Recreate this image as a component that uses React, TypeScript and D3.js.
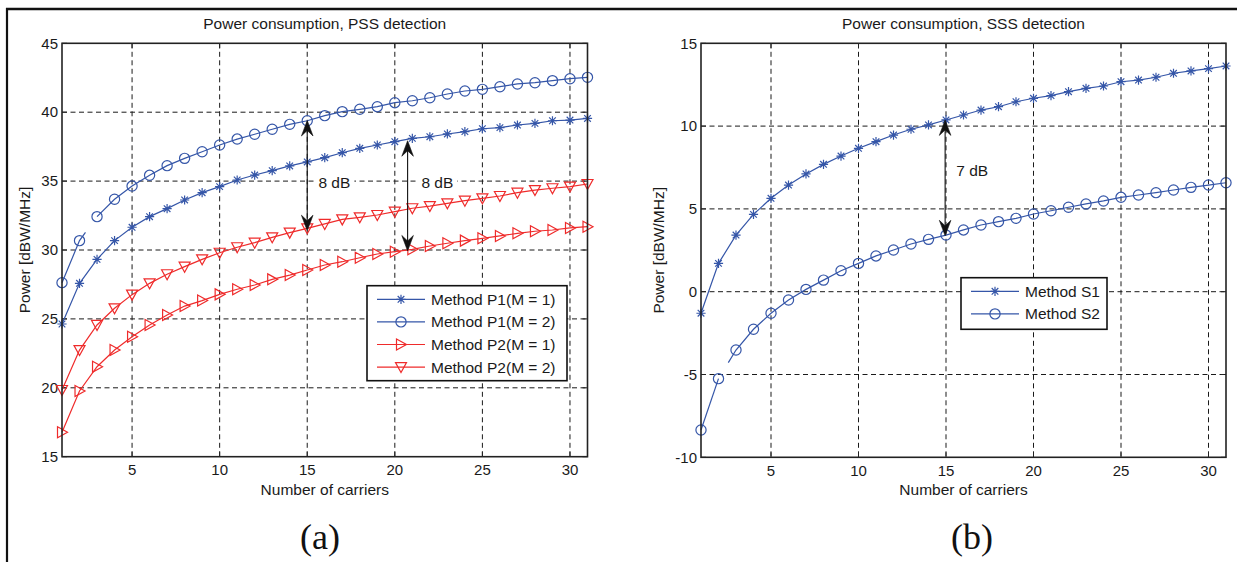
import React from 'react';
import * as d3 from 'd3';

// Number of carriers (x axis, both panels)
const carriers = [1, 2, 3, 4, 5, 6, 7, 8, 9, 10, 11, 12, 13, 14, 15, 16, 17, 18, 19, 20, 21, 22, 23, 24, 25, 26, 27, 28, 29, 30, 31];

// Panel (a): PSS detection power [dBW/MHz]
const p1m1 = [24.63, 27.58, 29.32, 30.68, 31.65, 32.42, 33.0, 33.63, 34.16, 34.6, 35.08, 35.44, 35.76, 36.1, 36.39, 36.7, 37.06, 37.38, 37.62, 37.86, 38.1, 38.22, 38.42, 38.59, 38.8, 38.88, 39.07, 39.19, 39.38, 39.43, 39.55];
const p1m2 = [27.63, 30.68, 32.42, 33.68, 34.64, 35.42, 36.12, 36.65, 37.13, 37.62, 38.05, 38.4, 38.76, 39.12, 39.38, 39.75, 40.04, 40.21, 40.4, 40.69, 40.83, 41.05, 41.32, 41.54, 41.66, 41.85, 42.05, 42.14, 42.29, 42.43, 42.53];
const p2m1 = [16.77, 19.77, 21.53, 22.74, 23.71, 24.56, 25.28, 25.93, 26.33, 26.78, 27.15, 27.46, 27.87, 28.18, 28.55, 28.91, 29.15, 29.44, 29.71, 29.88, 30.05, 30.29, 30.49, 30.68, 30.85, 31.02, 31.21, 31.36, 31.45, 31.6, 31.69];
const p2m2 = [19.84, 22.74, 24.56, 25.77, 26.76, 27.58, 28.24, 28.79, 29.32, 29.8, 30.2, 30.53, 30.92, 31.26, 31.57, 31.89, 32.22, 32.37, 32.54, 32.78, 33.03, 33.19, 33.39, 33.58, 33.75, 33.92, 34.16, 34.35, 34.48, 34.6, 34.79];

// Panel (b): SSS detection power [dBW/MHz]
const s1 = [-1.3, 1.71, 3.42, 4.67, 5.64, 6.44, 7.11, 7.69, 8.19, 8.66, 9.06, 9.46, 9.81, 10.07, 10.37, 10.67, 10.97, 11.17, 11.47, 11.68, 11.84, 12.08, 12.28, 12.42, 12.68, 12.78, 12.95, 13.19, 13.33, 13.47, 13.63];
const s2 = [-8.35, -5.25, -3.52, -2.27, -1.3, -0.5, 0.14, 0.7, 1.27, 1.71, 2.16, 2.52, 2.88, 3.16, 3.42, 3.73, 4.03, 4.23, 4.43, 4.69, 4.89, 5.1, 5.3, 5.48, 5.7, 5.84, 5.98, 6.14, 6.3, 6.44, 6.58];

// Tick labels
const xTicks = [5, 10, 15, 20, 25, 30];
const yTicksA = [15, 20, 25, 30, 35, 40, 45];
const yTicksB = [-10, -5, 0, 5, 10, 15];

// Double-arrow annotations: position, span in dB, label
const arrowsA = [
  { x: 15, mid: 35.4, span: 8, label: '8 dB', lx: 16.55, ly: 34.86 },
  { x: 20.73, mid: 33.93, span: 8, label: '8 dB', lx: 22.43, ly: 34.86 },
];
const arrowsB = [
  { x: 14.95, mid: 6.875, span: 7, label: '7 dB', lx: 16.5, ly: 7.29 },
];

const BLUE = '#3556a8';
const RED = '#ef2b2b';
const FONT = '"Liberation Sans", Arial, Helvetica, sans-serif';

type Gap = { index: number; from: number; to: number };
type Series = { values: number[]; color: string; marker: string; label: string; gap?: Gap };

const seriesA: Series[] = [
  { values: p1m1, color: BLUE, marker: 'star', label: 'Method P1(M = 1)' },
  { values: p1m2, color: BLUE, marker: 'circle', label: 'Method P1(M = 2)', gap: { index: 1, from: 0, to: 0.34 } },
  { values: p2m1, color: RED, marker: 'triright', label: 'Method P2(M = 1)' },
  { values: p2m2, color: RED, marker: 'tridown', label: 'Method P2(M = 2)' },
];
const seriesB: Series[] = [
  { values: s1, color: BLUE, marker: 'star', label: 'Method S1' },
  { values: s2, color: BLUE, marker: 'circle', label: 'Method S2', gap: { index: 1, from: 0.56, to: 1 } },
];

function Marker({ type, x, y, color }: { type: string; x: number; y: number; color: string }) {
  const sw = 1.2;
  if (type === 'circle') {
    return <circle cx={x} cy={y} r={5.1} fill="none" stroke={color} strokeWidth={sw} />;
  }
  if (type === 'star') {
    const a = 4.6;
    const d = a * 0.72;
    return (
      <path
        d={`M${x - a},${y}H${x + a}M${x},${y - a}V${y + a}M${x - d},${y - d}L${x + d},${y + d}M${x - d},${y + d}L${x + d},${y - d}`}
        stroke={color}
        strokeWidth={sw}
        fill="none"
      />
    );
  }
  if (type === 'triright') {
    return (
      <path d={`M${x - 4.5},${y - 5.5}L${x + 5.5},${y}L${x - 4.5},${y + 5.5}Z`} fill="none" stroke={color} strokeWidth={sw} />
    );
  }
  // tridown
  return (
    <path d={`M${x - 5.5},${y - 4.5}L${x + 5.5},${y - 4.5}L${x},${y + 5.5}Z`} fill="none" stroke={color} strokeWidth={sw} />
  );
}

// Split a polyline where one segment is only partially drawn
function linePieces(xs: number[], ys: number[], gap?: Gap): [number, number][][] {
  const pts: [number, number][] = xs.map((x, i) => [x, ys[i]]);
  if (!gap) return [pts];
  const i = gap.index;
  const lerp = (t: number): [number, number] => [
    pts[i][0] + t * (pts[i + 1][0] - pts[i][0]),
    pts[i][1] + t * (pts[i + 1][1] - pts[i][1]),
  ];
  const a = pts.slice(0, i + 1);
  if (gap.from === 0) a.push(lerp(gap.to));
  const b = pts.slice(i + 1);
  if (gap.to === 1) b.unshift(lerp(gap.from));
  return [a, b];
}

function ArrowHead({ x, y, dir }: { x: number; y: number; dir: number }) {
  // dir = -1 points up, +1 points down; tip at (x, y)
  const L = 15.5;
  const W = 5.8;
  const N = 10;
  return (
    <path
      d={`M${x},${y}L${x - W},${y - dir * L}L${x},${y - dir * N}L${x + W},${y - dir * L}Z`}
      fill="#111"
      stroke="#111"
      strokeWidth={0.6}
    />
  );
}

type PanelProps = {
  left: number;
  right: number;
  top: number;
  bottom: number;
  yDomain: [number, number];
  yTicks: number[];
  title: string;
  series: Series[];
  legend: { x: number; y: number; w: number; h: number; rowH: number };
  arrows: { x: number; mid: number; span: number; label: string; lx: number; ly: number }[];
  ylabelX: number;
  tag: string;
  tagX: number;
};

function Panel(p: PanelProps) {
  const x = d3.scaleLinear().domain([1, 31]).range([p.left, p.right]);
  const y = d3.scaleLinear().domain(p.yDomain).range([p.bottom, p.top]);
  const line = d3.line<[number, number]>().x((d) => x(d[0])).y((d) => y(d[1]));
  const cx = (p.left + p.right) / 2;
  const cy = (p.top + p.bottom) / 2;
  const dash = '5,3.5';
  const tickLen = 5;

  return (
    <g>
      {/* grid */}
      {xTicks.map((t) => (
        <line key={'gx' + t} x1={x(t)} x2={x(t)} y1={p.top} y2={p.bottom} stroke="#1a1a1a" strokeWidth={1} strokeDasharray={dash} />
      ))}
      {p.yTicks
        .filter((t) => t !== p.yDomain[0] && t !== p.yDomain[1])
        .map((t) => (
          <line key={'gy' + t} x1={p.left} x2={p.right} y1={y(t)} y2={y(t)} stroke="#1a1a1a" strokeWidth={1} strokeDasharray={dash} />
        ))}

      {/* ticks */}
      {xTicks.map((t) => (
        <g key={'tx' + t}>
          <line x1={x(t)} x2={x(t)} y1={p.bottom} y2={p.bottom - tickLen} stroke="#222" strokeWidth={1} />
          <line x1={x(t)} x2={x(t)} y1={p.top} y2={p.top + tickLen} stroke="#222" strokeWidth={1} />
          <text x={x(t)} y={p.bottom + 18.5} textAnchor="middle" fontSize={15} fontFamily={FONT} fill="#1a1a1a">
            {t}
          </text>
        </g>
      ))}
      {p.yTicks.map((t) => (
        <g key={'ty' + t}>
          <line x1={p.left} x2={p.left + tickLen} y1={y(t)} y2={y(t)} stroke="#222" strokeWidth={1} />
          <line x1={p.right} x2={p.right - tickLen} y1={y(t)} y2={y(t)} stroke="#222" strokeWidth={1} />
          <text x={p.left - 4} y={y(t)} dy="0.35em" textAnchor="end" fontSize={15} fontFamily={FONT} fill="#1a1a1a">
            {t}
          </text>
        </g>
      ))}

      {/* series */}
      {p.series.map((s, si) => (
        <g key={'s' + si}>
          {linePieces(carriers, s.values, s.gap).map((pts, k) => (
            <path key={k} d={line(pts) || ''} fill="none" stroke={s.color} strokeWidth={1.2} />
          ))}
          {carriers.map((c, i) => (
            <Marker key={i} type={s.marker} x={x(c)} y={y(s.values[i])} color={s.color} />
          ))}
        </g>
      ))}

      {/* arrows */}
      {p.arrows.map((a, i) => {
        const yTop = y(a.mid + a.span / 2);
        const yBot = y(a.mid - a.span / 2);
        return (
          <g key={'a' + i}>
            <line x1={x(a.x)} x2={x(a.x)} y1={yTop + 8} y2={yBot - 8} stroke="#111" strokeWidth={1.1} />
            <ArrowHead x={x(a.x)} y={yTop} dir={-1} />
            <ArrowHead x={x(a.x)} y={yBot} dir={1} />
            <rect x={x(a.lx) - 20} y={y(a.ly) - 9} width={40} height={18} fill="#fff" />
            <text x={x(a.lx)} y={y(a.ly)} dy="0.35em" textAnchor="middle" fontSize={15.5} fontFamily={FONT} fill="#1a1a1a">
              {a.label}
            </text>
          </g>
        );
      })}

      {/* frame */}
      <rect x={p.left} y={p.top} width={p.right - p.left} height={p.bottom - p.top} fill="none" stroke="#222" strokeWidth={1.6} />

      {/* legend */}
      <g>
        <rect x={p.legend.x} y={p.legend.y} width={p.legend.w} height={p.legend.h} fill="#fff" stroke="#111" strokeWidth={1.6} />
        {p.series.map((s, i) => {
          const ry = p.legend.y + 13.6 + i * p.legend.rowH;
          const lx0 = p.legend.x + 10;
          return (
            <g key={'l' + i}>
              <line x1={lx0} x2={lx0 + 48} y1={ry} y2={ry} stroke={s.color} strokeWidth={1.2} />
              <Marker type={s.marker} x={lx0 + 24} y={ry} color={s.color} />
              <text x={lx0 + 54} y={ry} dy="0.35em" fontSize={15.5} fontFamily={FONT} fill="#1a1a1a">
                {s.label}
              </text>
            </g>
          );
        })}
      </g>

      {/* titles and labels */}
      <text x={cx} y={29} textAnchor="middle" fontSize={15.5} fontFamily={FONT} fill="#1a1a1a">
        {p.title}
      </text>
      <text x={cx} y={p.bottom + 38} textAnchor="middle" fontSize={15.5} fontFamily={FONT} fill="#1a1a1a">
        Number of carriers
      </text>
      <text
        transform={`translate(${p.ylabelX},${cy}) rotate(-90)`}
        textAnchor="middle"
        fontSize={15.5}
        fontFamily={FONT}
        fill="#1a1a1a"
      >
        Power [dBW/MHz]
      </text>
      <text x={p.tagX} y={549} textAnchor="middle" fontSize={36} fontFamily='"Liberation Serif", "Times New Roman", serif' fill="#111">
        {p.tag}
      </text>
    </g>
  );
}

export default function App() {
  return (
    <svg
      width={1237}
      height={562}
      style={{ position: 'absolute', left: 0, top: 0, background: '#fff' }}
    >
      <rect x={0} y={0} width={1237} height={562} fill="#fff" />
      {/* figure border */}
      <line x1={6} x2={1237} y1={9} y2={9} stroke="#111" strokeWidth={2.5} />
      <line x1={7} x2={7} y1={8} y2={562} stroke="#111" strokeWidth={2.2} />

      <Panel
        left={62}
        right={587.5}
        top={43.3}
        bottom={456.7}
        yDomain={[15, 45]}
        yTicks={yTicksA}
        title="Power consumption, PSS detection"
        series={seriesA}
        legend={{ x: 367, y: 285.7, w: 200, h: 95, rowH: 22.6 }}
        arrows={arrowsA}
        ylabelX={30}
        tag="(a)"
        tagX={320}
      />
      <Panel
        left={701}
        right={1226}
        top={43.3}
        bottom={457.3}
        yDomain={[-10, 15]}
        yTicks={yTicksB}
        title="Power consumption, SSS detection"
        series={seriesB}
        legend={{ x: 961, y: 277.7, w: 146, h: 51.6, rowH: 22.6 }}
        arrows={arrowsB}
        ylabelX={664}
        tag="(b)"
        tagX={972}
      />
    </svg>
  );
}
